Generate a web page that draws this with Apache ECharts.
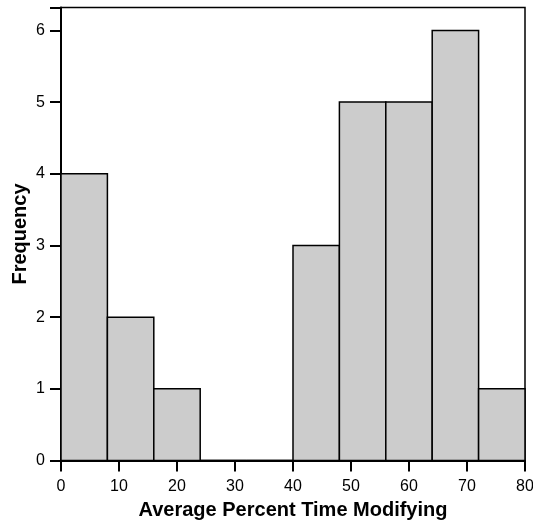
<!DOCTYPE html>
<html><head><meta charset="utf-8">
<script src="https://cdn.jsdelivr.net/npm/echarts@6/dist/echarts.min.js"></script>
<style>html,body{margin:0;padding:0;background:#fff}#c{width:533px;height:527px}</style>
</head><body><div id="c"></div>
<script>
const binStarts = [0, 8, 16, 24, 32, 40, 48, 56, 64, 72];
const binWidth = 8;
const counts = [4, 2, 1, 0, 0, 3, 5, 5, 6, 1];
const xTicks = [0, 10, 20, 30, 40, 50, 60, 70, 80];
const yTicks = [0, 1, 2, 3, 4, 5, 6];

const data = binStarts.map((s, i) => [s, s + binWidth, counts[i]]);
const chart = echarts.init(document.getElementById('c'));
const font = 'Liberation Sans, Arial, sans-serif';
chart.setOption({
  animation: false,
  grid: {left: 61, right: 8, top: 7.5, bottom: 66.5, containLabel: false, outerBoundsMode: 'none',
    show: true, borderColor: '#000', borderWidth: 1.5, backgroundColor: 'transparent'},
  xAxis: {
    type: 'value', min: 0, max: 80, interval: 10,
    name: 'Average Percent Time Modifying', nameLocation: 'middle', nameGap: 40, nameMoveOverlap: false,
    nameTextStyle: {fontFamily: font, fontWeight: 'bold', fontSize: 20, color: '#000'},
    axisLine: {show: true, onZero: false, lineStyle: {color: '#000', width: 2}},
    axisTick: {show: true, length: 11, lineStyle: {color: '#000', width: 2}},
    axisLabel: {margin: 18, fontFamily: font, fontSize: 16, color: '#000',
      formatter: v => xTicks.includes(v) ? String(v) : ''},
    splitLine: {show: false}
  },
  yAxis: {
    type: 'value', min: 0, max: 6.32, interval: 1,
    name: 'Frequency', nameLocation: 'middle', nameGap: 31, nameMoveOverlap: false,
    nameTextStyle: {fontFamily: font, fontWeight: 'bold', fontSize: 20, color: '#000'},
    axisLine: {show: true, lineStyle: {color: '#000', width: 2}},
    axisTick: {show: true, length: 11, lineStyle: {color: '#000', width: 2}},
    axisLabel: {margin: 16, fontFamily: font, fontSize: 16, color: '#000',
      formatter: v => yTicks.includes(v) ? String(v) : ''},
    splitLine: {show: false}
  },
  series: [{
    type: 'custom',
    data: data,
    encode: {x: [0, 1], y: 2},
    renderItem: function (params, api) {
      const p0 = api.coord([api.value(0), 0]);
      const p1 = api.coord([api.value(1), api.value(2)]);
      return {
        type: 'rect',
        shape: {x: p0[0], y: p1[1], width: p1[0] - p0[0], height: p0[1] - p1[1]},
        style: {fill: '#cccccc', stroke: '#000', lineWidth: 1.5}
      };
    }
  }]
});
</script></body></html>
